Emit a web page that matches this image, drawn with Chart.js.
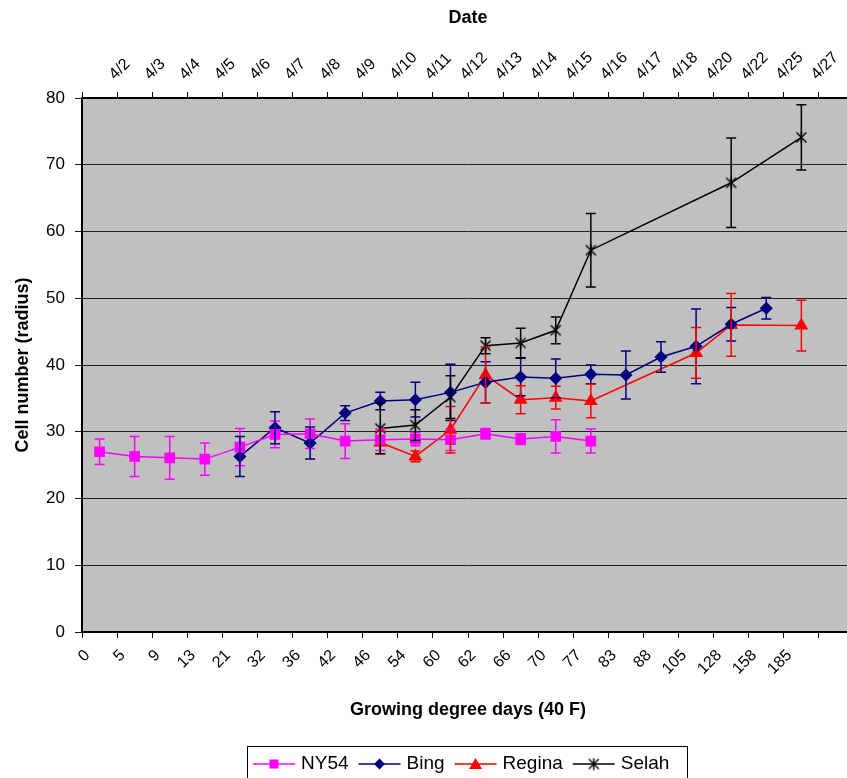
<!DOCTYPE html>
<html>
<head>
<meta charset="utf-8">
<script src="https://cdn.jsdelivr.net/npm/chart.js@4/dist/chart.umd.min.js"></script>
<style>
  body { margin: 0; background: #fff; overflow: hidden; }
  /* the plot runs a little past the right edge of the window, as in the original */
  #wrap { width: 875px; height: 778px; }
</style>
</head>
<body>
<div id="wrap"><canvas id="chart"></canvas></div>
<script>
// category labels (last slot is empty, it sits past the window edge)
const gddLabels = ['0', '5', '9', '13', '21', '32', '36', '42', '46', '54', '60', '62', '66', '70', '77', '83', '88', '105', '128', '158', '185', ''];
const dateLabels = ['4/2', '4/3', '4/4', '4/5', '4/6', '4/7', '4/8', '4/9', '4/10', '4/11', '4/12', '4/13', '4/14', '4/15', '4/16', '4/17', '4/18', '4/20', '4/22', '4/25', '4/27', ''];

const ny54 = [27.0, 26.3, 26.1, 25.9, 27.7, 29.6, 29.7, 28.6, 28.8, 28.9, 28.8, 29.7, 28.9, 29.3, 28.6];
const ny54Err = [1.9, 3.0, 3.2, 2.4, 2.8, 2.0, 2.2, 2.6, 1.6, 1.0, 1.6, 0.8, 0.8, 2.5, 1.8];

const bing = [null, null, null, null, 26.3, 30.6, 28.3, 32.8, 34.6, 34.8, 35.9, 37.4, 38.2, 38.0, 38.6, 38.5, 41.2, 42.8, 46.1, 48.5];
const bingErr = [null, null, null, null, 3.0, 2.4, 2.4, 1.1, 1.3, 2.6, 4.2, 3.1, 2.8, 2.9, 1.4, 3.6, 2.3, 5.6, 2.5, 1.6];

const regina = [null, null, null, null, null, null, null, null, 28.4, 26.3, 30.3, 38.5, 34.8, 35.1, 34.6, null, null, 41.8, 46.0, null, 45.9];
const reginaErr = [null, null, null, null, null, null, null, null, 1.7, 0.8, 3.5, 4.2, 2.1, 1.7, 2.5, null, null, 3.8, 4.7, null, 3.8];

const selah = [null, null, null, null, null, null, null, null, 30.5, 31.0, 35.2, 42.9, 43.3, 45.2, 57.2, null, null, null, 67.3, null, 74.1];
const selahErr = [null, null, null, null, null, null, null, null, 3.8, 2.3, 3.2, 1.2, 2.2, 2.0, 5.5, null, null, null, 6.7, null, 4.9];

const FONT = "'Liberation Sans', Arial, sans-serif";
Chart.defaults.font.family = FONT;
Chart.defaults.color = '#000';

// excel style star: X with a vertical bar
function starImage(color) {
    const c = document.createElement('canvas');
    c.width = 13; c.height = 13;
    const g = c.getContext('2d');
    g.strokeStyle = color;
    g.lineWidth = 1.4;
    g.beginPath();
    g.moveTo(1.5, 1.5); g.lineTo(11.5, 11.5);
    g.moveTo(11.5, 1.5); g.lineTo(1.5, 11.5);
    g.moveTo(6.5, 0.5); g.lineTo(6.5, 12.5);
    g.stroke();
    return c;
}
const selahStar = starImage('#000');

function drawMarker(ctx, style, x, y, color) {
    ctx.save();
    ctx.fillStyle = color;
    ctx.strokeStyle = color;
    ctx.beginPath();
    if (style === 'rect') {
        ctx.fillRect(x - 4.5, y - 4.5, 9, 9);
    } else if (style === 'rectRot') {
        ctx.moveTo(x, y - 5.5); ctx.lineTo(x + 5.5, y); ctx.lineTo(x, y + 5.5); ctx.lineTo(x - 5.5, y);
        ctx.closePath(); ctx.fill();
    } else if (style === 'triangle') {
        ctx.moveTo(x, y - 6); ctx.lineTo(x + 6.5, y + 5); ctx.lineTo(x - 6.5, y + 5);
        ctx.closePath(); ctx.fill();
    } else {
        ctx.drawImage(selahStar, x - 6.5, y - 6.5);
    }
    ctx.restore();
}

const plotBackground = {
    id: 'plotBackground',
    beforeDraw(chart) {
        const { ctx, chartArea: a } = chart;
        ctx.save();
        ctx.fillStyle = '#C0C0C0';
        ctx.fillRect(a.left, a.top, a.right - a.left, a.bottom - a.top);
        ctx.restore();
    }
};

const errorBars = {
    id: 'errorBars',
    afterDatasetsDraw(chart) {
        const { ctx } = chart;
        const yScale = chart.scales.y;
        ctx.save();
        chart.data.datasets.forEach((ds, i) => {
            const meta = chart.getDatasetMeta(i);
            ctx.strokeStyle = ds.borderColor;
            ctx.lineWidth = 1.5;
            ds.data.forEach((v, j) => {
                const e = ds.errors[j];
                if (v == null || e == null) return;
                const x = meta.data[j].x;
                const y1 = yScale.getPixelForValue(v + e);
                const y2 = yScale.getPixelForValue(v - e);
                ctx.beginPath();
                ctx.moveTo(x, y1); ctx.lineTo(x, y2);
                ctx.moveTo(x - 5, y1); ctx.lineTo(x + 5, y1);
                ctx.moveTo(x - 5, y2); ctx.lineTo(x + 5, y2);
                ctx.stroke();
            });
        });
        ctx.restore();
    }
};

const boxedLegend = {
    id: 'boxedLegend',
    afterDraw(chart) {
        const { ctx } = chart;
        ctx.save();
        ctx.strokeStyle = '#000';
        ctx.lineWidth = 1;
        ctx.strokeRect(247.5, 746.5, 440, 34);
        ctx.font = '19px ' + FONT;
        ctx.textBaseline = 'middle';
        ctx.fillStyle = '#000';
        let x = 253;
        const y = 764;
        chart.data.datasets.forEach(ds => {
            ctx.strokeStyle = ds.borderColor;
            ctx.lineWidth = 1.5;
            ctx.beginPath();
            ctx.moveTo(x, y); ctx.lineTo(x + 42, y);
            ctx.stroke();
            drawMarker(ctx, ds.legendMarker, x + 21, y, ds.borderColor);
            ctx.fillStyle = '#000';
            ctx.fillText(ds.label, x + 48, y);
            x += 48 + ctx.measureText(ds.label).width + 10;
        });
        ctx.restore();
    }
};

function series(label, data, errors, color, style, marker, radius) {
    return {
        label, data, errors,
        borderColor: color,
        backgroundColor: color,
        borderWidth: 1.5,
        pointStyle: style,
        pointRadius: radius,
        pointHoverRadius: radius,
        legendMarker: marker,
        spanGaps: true,
        tension: 0
    };
}

// fixed axis sizes, no extra side padding from rotated labels
function fixBox(size, horizontal) {
    return s => {
        if (horizontal) s.height = size; else s.width = size;
        s.paddingLeft = 0; s.paddingRight = 0;
        s.paddingTop = 0; s.paddingBottom = 0;
    };
}

new Chart(document.getElementById('chart'), {
    type: 'line',
    data: {
        labels: gddLabels,
        datasets: [
            series('NY54', ny54, ny54Err, '#FF00FF', 'rect', 'rect', 6.5),
            series('Bing', bing, bingErr, '#000080', 'rectRot', 'rectRot', 5.5),
            series('Regina', regina, reginaErr, '#FF0000', 'triangle', 'triangle', 6.5),
            series('Selah', selah, selahErr, '#000000', selahStar, 'star', 6.5)
        ]
    },
    options: {
        responsive: true,
        maintainAspectRatio: false,
        animation: false,
        layout: { autoPadding: false, padding: { left: 0, right: 21, top: 0, bottom: 0 } },
        plugins: {
            legend: { display: false },
            tooltip: { enabled: false }
        },
        scales: {
            x: {
                type: 'category',
                position: 'bottom',
                offset: true,
                afterFit: fixBox(146, true),
                grid: { offset: true, drawOnChartArea: false, drawTicks: true, tickLength: 6, color: '#000' },
                border: { display: true, color: '#000', width: 2 },
                ticks: { autoSkip: false, minRotation: 45, maxRotation: 45, padding: 8, labelOffset: -12, font: { size: 16 } },
                title: { display: true, text: 'Growing degree days (40 F)', font: { size: 18, weight: 'bold' }, padding: { top: 0, bottom: 57 } }
            },
            x2: {
                type: 'category',
                position: 'top',
                labels: dateLabels,
                offset: true,
                afterFit: fixBox(98, true),
                grid: { offset: true, drawOnChartArea: false, drawTicks: true, tickLength: 6, color: '#000' },
                border: { display: true, color: '#000', width: 2 },
                ticks: { autoSkip: false, minRotation: 45, maxRotation: 45, padding: 8, labelOffset: 26, font: { size: 16 } },
                title: { display: true, text: 'Date', font: { size: 18, weight: 'bold' }, padding: { top: 7, bottom: 0 } }
            },
            y: {
                min: 0,
                max: 80,
                afterFit: fixBox(82, false),
                grid: { color: '#222', lineWidth: 1, tickLength: 7 },
                border: { display: true, color: '#000', width: 2 },
                ticks: { stepSize: 10, padding: 10, font: { size: 17 } },
                title: { display: true, text: 'Cell number (radius)', font: { size: 18, weight: 'bold' }, padding: { top: 12, bottom: 0 } }
            }
        }
    },
    plugins: [plotBackground, errorBars, boxedLegend]
});
</script>
</body>
</html>
